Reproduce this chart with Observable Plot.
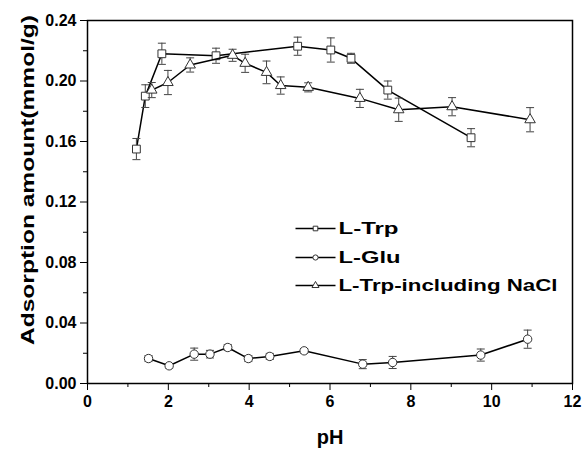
<!DOCTYPE html>
<html>
<head>
<meta charset="utf-8">
<script src="https://cdn.jsdelivr.net/npm/d3@7"></script>
<script src="https://cdn.jsdelivr.net/npm/@observablehq/plot@0.6"></script>
<style>
  html, body { margin: 0; padding: 0; background: #fff; }
</style>
</head>
<body>
<div id="chart"></div>
<script>
// ---- data ----
const trpPH  = [1.21, 1.43, 1.84, 3.18, 5.20, 6.02, 6.52, 7.43, 9.49];
const trpVal = [0.155, 0.190, 0.218, 0.2167, 0.223, 0.2205, 0.215, 0.194, 0.1625];
const trpErr = [0.007, 0.0075, 0.007, 0.005, 0.006, 0.008, 0.0033, 0.006, 0.006];

const gluPH  = [1.51, 2.02, 2.64, 3.03, 3.47, 3.98, 4.51, 5.36, 6.81, 7.55, 9.73, 10.89];
const gluVal = [0.0165, 0.0117, 0.0194, 0.0194, 0.0238, 0.0165, 0.0179, 0.0216, 0.0128, 0.0139, 0.0188, 0.0293];
const gluErr = [0.002, 0.0015, 0.004, 0.0025, 0.002, 0.002, 0.002, 0.0015, 0.003, 0.004, 0.004, 0.006];

const naclPH  = [1.59, 1.99, 2.54, 3.59, 3.90, 4.43, 4.78, 5.46, 6.74, 7.70, 9.02, 10.95];
const naclVal = [0.194, 0.199, 0.2106, 0.217, 0.2117, 0.2057, 0.197, 0.1958, 0.1885, 0.181, 0.183, 0.1744];
const naclErr = [0.005, 0.008, 0.0047, 0.004, 0.006, 0.0075, 0.0057, 0.003, 0.006, 0.0077, 0.006, 0.008];

const seriesNames = ["L-Trp", "L-Glu", "L-Trp-including NaCl"];
const seriesSymbols = ["square", "circle", "triangle"];
const xTicks = [0, 2, 4, 6, 8, 10, 12];
const xMinor = [1, 3, 5, 7, 9, 11];
const yTicks = [0, 0.04, 0.08, 0.12, 0.16, 0.20, 0.24];
const yMinor = [0.02, 0.06, 0.10, 0.14, 0.18, 0.22];

const toRows = (xs, ys, es) => xs.map((x, i) => ({x, y: ys[i], e: es[i]}));
const trp = toRows(trpPH, trpVal, trpErr);
const glu = toRows(gluPH, gluVal, gluErr);
const nacl = toRows(naclPH, naclVal, naclErr);
const allSeries = [trp, glu, nacl];

const capSymbol = {draw(ctx) { ctx.moveTo(-4, 0); ctx.lineTo(4, 0); }};
const legendLine = {draw(ctx) { ctx.moveTo(-20, 0); ctx.lineTo(20, 0); }};

const markerStroke = "#333";
const errStroke = "#444";
const symR = {square: 4.4, circle: 4.2, triangle: 3.9};

const seriesMarks = allSeries.flatMap((data, i) => [
  Plot.line(data, {x: "x", y: "y", stroke: "#000", strokeWidth: 1.5}),
  Plot.ruleX(data, {x: "x", y1: d => d.y - d.e, y2: d => d.y + d.e, stroke: errStroke, strokeWidth: 1}),
  Plot.dot(data, {x: "x", y: d => d.y + d.e, symbol: capSymbol, fill: "none", stroke: errStroke, strokeWidth: 1}),
  Plot.dot(data, {x: "x", y: d => d.y - d.e, symbol: capSymbol, fill: "none", stroke: errStroke, strokeWidth: 1}),
  Plot.dot(data, {x: "x", y: "y", symbol: seriesSymbols[i], r: symR[seriesSymbols[i]], fill: "white", stroke: markerStroke, strokeWidth: 1})
]);

const legendRows = [208, 237, 265];
const legendMarks = seriesNames.flatMap((name, i) => [
  Plot.dot([name], {frameAnchor: "top-left", dx: 228, dy: legendRows[i], symbol: legendLine, fill: "none", stroke: "#000", strokeWidth: 1.3}),
  Plot.dot([name], {frameAnchor: "top-left", dx: 228, dy: legendRows[i], symbol: seriesSymbols[i], r: 2.6, fill: "white", stroke: markerStroke, strokeWidth: 1}),
  Plot.text([name], {frameAnchor: "top-left", dx: 251, dy: legendRows[i], text: d => d, textAnchor: "start", lineAnchor: "middle", fontSize: 17, fontWeight: "bold", fill: "#000", className: "leg" + i})
]);

const chart = Plot.plot({
  width: 586,
  height: 449,
  marginLeft: 87,
  marginRight: 14,
  marginTop: 20,
  marginBottom: 66,
  style: {fontFamily: "'Liberation Sans', Arial, sans-serif", fontWeight: "bold", fontSize: "16px", color: "#000", background: "#fff"},
  x: {domain: [0, 12]},
  y: {domain: [0, 0.24]},
  marks: [
    Plot.axisX({ticks: xTicks, tickSize: 7, tickPadding: 5, tickFormat: d3.format("d"), label: null, fontSize: 16, fontWeight: "bold"}),
    Plot.axisX({ticks: xMinor, tickSize: 4, fill: "none", label: null}),
    Plot.axisY({ticks: yTicks, tickSize: 7, tickPadding: 4, tickFormat: d3.format(".2f"), label: null, fontSize: 16, fontWeight: "bold"}),
    Plot.axisY({ticks: yMinor, tickSize: 4, fill: "none", label: null}),
    ...seriesMarks,
    Plot.frame({stroke: "#000", strokeWidth: 1.5}),
    ...legendMarks,
    Plot.text(["pH"], {frameAnchor: "bottom", dy: 60, text: d => d, lineAnchor: "bottom", fontSize: 20, fontWeight: "bold", fill: "#000"}),
    Plot.text(["Adsorption amount(mmol/g)"], {frameAnchor: "left", dx: -60, dy: 143, rotate: -90, text: d => d, textAnchor: "start", lineAnchor: "middle", fontSize: 19, fontWeight: "bold", fill: "#000", className: "ytitle"})
  ]
});

document.getElementById("chart").appendChild(chart);

const stretch = (cls, len) => {
  chart.querySelectorAll("." + cls + " text").forEach(t => {
    t.setAttribute("textLength", len);
    t.setAttribute("lengthAdjust", "spacingAndGlyphs");
  });
};
stretch("ytitle", 330);
stretch("leg0", 60);
stretch("leg1", 62);
stretch("leg2", 219);
</script>
</body>
</html>
